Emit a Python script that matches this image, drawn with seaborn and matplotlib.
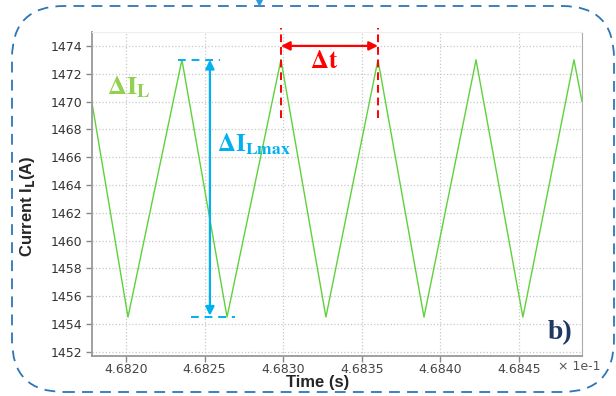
import matplotlib
matplotlib.use("Agg")
import matplotlib.pyplot as plt
import seaborn as sns
import pandas as pd
from matplotlib.patches import FancyBboxPatch
from matplotlib.lines import Line2D

# ---- data ----
time_s = [4.681784, 4.682013, 4.682356, 4.682643, 4.682986, 4.683272,
          4.683603, 4.683896, 4.684227, 4.684525, 4.684850, 4.684901]
current_A = [1469.9, 1454.5, 1473.0, 1454.5, 1473.0, 1454.5,
             1473.0, 1454.5, 1473.0, 1454.5, 1473.0, 1470.0]
x_ticks = [4.6820, 4.6825, 4.6830, 4.6835, 4.6840, 4.6845]
y_ticks = [1452, 1454, 1456, 1458, 1460, 1462, 1464, 1466, 1468, 1470, 1472, 1474]

df = pd.DataFrame({"t": time_s, "i": current_A})

sns.set_style("whitegrid")
plt.rcParams["font.family"] = ["DejaVu Sans"]

fig = plt.figure(figsize=(6.16, 3.96), dpi=100)
ax = fig.add_axes([92/616, 1-356/396, (582-92)/616, (356-32)/396])

sns.lineplot(data=df, x="t", y="i", ax=ax, color="#5fd13c", linewidth=1.0)

ax.set_xlim(4.681784, 4.684901)
ax.set_ylim(1451.7, 1475.0)
ax.set_xticks(x_ticks)
ax.set_xticklabels([f"{v:.4f}" for v in x_ticks])
ax.set_yticks(y_ticks)
ax.set_yticklabels([str(v) for v in y_ticks])
ax.tick_params(axis="both", labelsize=9, labelcolor="#333333", colors="#888888",
               length=4.5, width=1, direction="out", left=True, bottom=True, pad=2.5)
ax.tick_params(axis="x", labelcolor="#444444", pad=0.5)
ax.grid(True, linestyle=":", color="#c8c8c8", linewidth=0.9)
for s in ["left", "bottom"]:
    ax.spines[s].set_color("#999999")
    ax.spines[s].set_linewidth(1.3)
ax.spines["right"].set_color("#aaaaaa")
ax.spines["top"].set_color("#eeeeee")

ax.set_xlabel("Time (s)", fontsize=12, fontweight="bold", family="Liberation Sans")
ax.xaxis.set_label_coords(0.461, -0.058)
ax.set_ylabel(r"Current I$_\mathbf{L}$(A)", fontsize=12, fontweight="bold",
              family="Liberation Sans", math_fontfamily="custom")
ax.yaxis.set_label_coords(-0.112, 0.463)
fig.text(558/616, 1-367/396, "× 1e-1", fontsize=9, color="#555555", va="center", ha="left")

# ---- annotations ----
green_txt = "#92d050"
blue = "#00b0f0"
red = "#ff0000"

ax.text(4.681879, 1471.0, r"$\mathbf{\Delta I}_{\mathbf{L}}$", color=green_txt,
        fontsize=19, math_fontfamily="stix", va="center", ha="left")
ax.text(4.682580, 1466.9, r"$\mathbf{\Delta I}_{\mathbf{Lmax}}$", color=blue,
        fontsize=18, math_fontfamily="stix", va="center", ha="left")

# blue double arrow + dashed limits
ax.annotate("", xy=(4.682534, 1454.6), xytext=(4.682534, 1473.0),
            arrowprops=dict(arrowstyle="<|-|>", color=blue, lw=1.6, mutation_scale=13,
                            shrinkA=0, shrinkB=0))
ax.plot([4.682331, 4.682598], [1473.0, 1473.0], color=blue, lw=1.4, ls=(0, (4, 3)))
ax.plot([4.682414, 4.682693], [1454.5, 1454.5], color=blue, lw=1.4, ls=(0, (4, 3)))

# red delta t
for xv in [4.682986, 4.683603]:
    ax.plot([xv, xv], [1468.8, 1475.3], color=red, lw=1.4, ls=(0, (4, 2.5)), clip_on=False)
ax.annotate("", xy=(4.682986, 1474.0), xytext=(4.683603, 1474.0),
            arrowprops=dict(arrowstyle="<|-|>", color=red, lw=1.6, mutation_scale=13,
                            shrinkA=0, shrinkB=0))
ax.text(4.683170, 1472.9, r"$\mathbf{\Delta t}$", color=red, fontsize=18,
        math_fontfamily="stix", va="center", ha="left")

ax.text(4.684680, 1453.35, "b)", color="#1f3864", fontsize=20, fontweight="bold",
        family="Liberation Serif", va="center", ha="left")

# dashed rounded frame around the figure
frame = FancyBboxPatch((0.12, 0.04), 6.02, 3.86, boxstyle="round,pad=0,rounding_size=0.52",
                       transform=fig.dpi_scale_trans, fill=False, edgecolor="#2e75b6",
                       lw=1.3, ls=(0, (6, 4)))
fig.patches.append(frame)
fig.add_artist(Line2D([259/616], [1-2/396], marker="v", markersize=5, color="#2e9be0",
                      transform=fig.transFigure, linestyle="none"))

fig.savefig("out.png", dpi=100)
